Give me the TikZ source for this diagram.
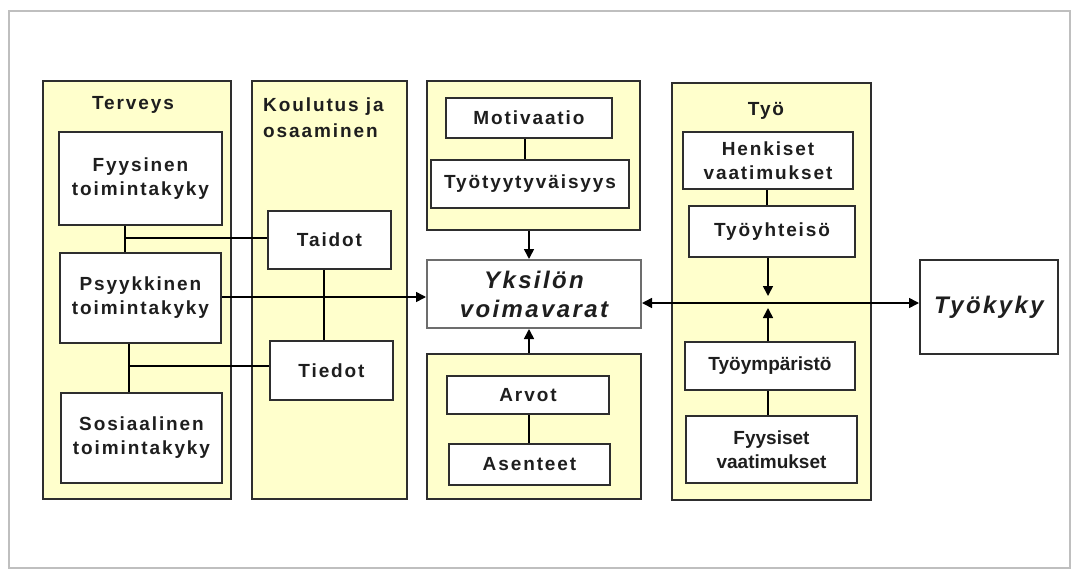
\documentclass[tikz,border=0pt]{standalone}
\usepackage{fontspec}
\setmainfont{Liberation Sans}
\newfontfamily\spfont[LetterSpace=10]{Liberation Sans}
\newfontfamily\plainfont{Liberation Sans}
\usetikzlibrary{arrows.meta}
\definecolor{yel}{HTML}{FFFFCC}
\definecolor{bord}{HTML}{2E2E2E}
\definecolor{txt}{HTML}{1E1E1E}
\begin{document}
\begin{tikzpicture}[x=1pt,y=-1pt,
  grp/.style={draw=bord,line width=2.6pt,fill=yel,inner sep=0pt},
  wbox/.style={draw=bord,line width=2pt,fill=white,inner sep=0pt,align=center,text=txt,
    font=\spfont\bfseries\fontsize{19}{24}\selectfont},
  pbox/.style={wbox,font=\plainfont\bfseries\fontsize{19}{24}\selectfont},
  bigbox/.style={draw=bord!70,line width=2pt,fill=white,inner sep=0pt,align=center,text=txt,
    font=\spfont\bfseries\itshape\fontsize{24}{29}\selectfont},
  ttl/.style={anchor=base,text=txt,font=\spfont\bfseries\fontsize{19}{26}\selectfont,inner sep=0pt},
  conn/.style={draw=black,line width=1.6pt},
  arr/.style={conn,-{Triangle[length=10pt,width=10pt]}},
  darr/.style={conn,{Triangle[length=10pt,width=10pt]}-{Triangle[length=10pt,width=10pt]}}]
\useasboundingbox (0,0) rectangle (1073,570);
\draw[draw=black!25,line width=1.5pt] (9,11) rectangle (1070,568);
% group boxes
\node[grp,minimum width=188pt,minimum height=418pt] (terv) at (137,290) {};
\node[grp,minimum width=155pt,minimum height=418pt] (koul) at (329.5,290) {};
\node[grp,minimum width=213pt,minimum height=149pt] (mtop) at (533.5,155.5) {};
\node[grp,minimum width=214pt,minimum height=145pt] (mbot) at (534,426.5) {};
\node[grp,minimum width=199pt,minimum height=417pt] (tyo) at (771.5,291.5) {};
% titles
\node[ttl] (tervt) at (133,109) {Terveys};
\node[ttl,anchor=base west,align=left] (koult) at (263,137) {Koulutus ja\\osaaminen};
\node[ttl] (tyot) at (766,115) {Työ};
% white boxes
\node[wbox,minimum width=163pt,minimum height=93pt] (fyys) at (140.5,178.5) {Fyysinen\\toimintakyky};
\node[wbox,minimum width=161pt,minimum height=90pt] (psyy) at (140.5,298) {Psyykkinen\\toimintakyky};
\node[wbox,minimum width=161pt,minimum height=90pt] (sosi) at (141.5,438) {Sosiaalinen\\toimintakyky};
\node[wbox,minimum width=123pt,minimum height=58pt] (taid) at (329.5,240) {Taidot};
\node[wbox,minimum width=123pt,minimum height=59pt] (tied) at (331.5,370.5) {Tiedot};
\node[wbox,minimum width=166pt,minimum height=40pt] (moti) at (529,118) {Motivaatio};
\node[wbox,minimum width=198pt,minimum height=48pt] (tyyt) at (530,184) {Työtyytyväisyys};
\node[bigbox,minimum width=214pt,minimum height=68pt] (yksi) at (534,294) {Yksilön\\voimavarat};
\node[wbox,minimum width=162pt,minimum height=38pt] (arvo) at (528,395) {Arvot};
\node[wbox,minimum width=161pt,minimum height=41pt] (asen) at (529.5,464.5) {Asenteet};
\node[wbox,minimum width=170pt,minimum height=57pt] (henk) at (768,160.5) {Henkiset\\vaatimukset};
\node[wbox,minimum width=166pt,minimum height=51pt] (yhte) at (772,231.5) {Työyhteisö};
\node[pbox,minimum width=170pt,minimum height=48pt] (ympa) at (770,366) {Työympäristö};
\node[pbox,minimum width=171pt,minimum height=67pt] (fvaa) at (771.5,449.5) {Fyysiset\\vaatimukset};
\node[bigbox,draw=bord,minimum width=138pt,minimum height=94pt] (kyky) at (989,307) {Työkyky};
% junction coordinates
\coordinate (j1) at (125,238);
\coordinate (j2) at (129,366);
\coordinate (hl) at (780,303);
\coordinate (xm) at (529,0);
\coordinate (xt) at (768,0);
% connectors
\draw[conn] (j1 |- fyys.south) -- (j1 |- psyy.north);
\draw[conn] (j1) -- (j1 -| taid.west);
\draw[conn] (j2 |- psyy.south) -- (j2 |- sosi.north);
\draw[conn] (j2) -- (j2 -| tied.west);
\draw[conn] (324,0 |- taid.south) -- (324,0 |- tied.north);
\draw[arr] (psyy.east |- 0,297) -- (yksi.west |- 0,297);
\draw[conn] (525,0 |- moti.south) -- (525,0 |- tyyt.north);
\draw[arr] (xm |- mtop.south) -- (xm |- yksi.north);
\draw[arr] (xm |- mbot.north) -- (xm |- yksi.south);
\draw[conn] (xm |- arvo.south) -- (xm |- asen.north);
\draw[conn] (767,0 |- henk.south) -- (767,0 |- yhte.north);
\draw[arr] (xt |- yhte.south) -- (768,296);
\draw[arr] (xt |- ympa.north) -- (768,308);
\draw[conn] (xt |- ympa.south) -- (xt |- fvaa.north);
\draw[darr] (hl -| yksi.east) -- (hl -| kyky.west);
\end{tikzpicture}
\end{document}
